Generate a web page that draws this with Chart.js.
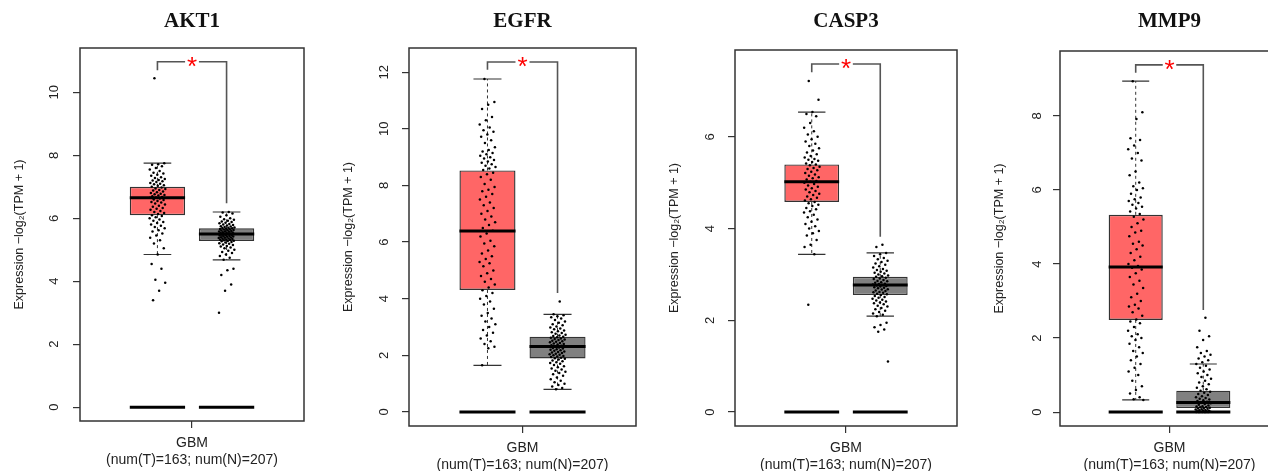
<!DOCTYPE html>
<html><head><meta charset="utf-8">
<script src="https://cdn.jsdelivr.net/npm/chart.js@4.4.1/dist/chart.umd.min.js"></script>
<style>
html,body{margin:0;padding:0;background:#fff;width:1268px;height:471px;overflow:hidden;position:relative;}
.panel{position:absolute;top:0;height:471px;}
</style></head><body>
<script>
// ---------------- data ----------------
const genes = ['AKT1', 'EGFR', 'CASP3', 'MMP9'];
const xTickLabel = ['GBM', '(num(T)=163; num(N)=207)'];
const yTitle = 'Expression \u2212log\u2082(TPM + 1)';
const yTicks = [[0, 2, 4, 6, 8, 10], [0, 2, 4, 6, 8, 10, 12], [0, 2, 4, 6], [0, 2, 4, 6, 8]];

// box statistics: tumor (T, red) and normal (N, grey)
const tumorQ1     = [6.10, 4.31, 4.58, 2.49];
const tumorMedian = [6.65, 6.39, 5.02, 3.92];
const tumorQ3     = [7.00, 8.53, 5.40, 5.33];
const tumorLow    = [4.85, 1.65, 3.44, 0.33];
const tumorHigh   = [7.75, 11.76, 6.54, 8.94];
const normalQ1     = [5.28, 1.89, 2.55, 0.11];
const normalMedian = [5.50, 2.31, 2.77, 0.26];
const normalQ3     = [5.68, 2.66, 2.95, 0.58];
const normalLow    = [4.68, 0.80, 2.09, 0.00];
const normalHigh   = [6.20, 3.45, 3.47, 1.30];

// significance bracket
const bracketTop      = [10.97, 12.36, 7.59, 9.38];
const bracketLeftEnd  = [10.70, 12.09, 7.41, 9.17];
const bracketRightEnd = [6.48, 4.20, 3.82, 2.76];

// sample points
const akt1Tumor = [10.45, 7.75, 7.72, 7.7, 7.65, 7.6, 7.55, 7.5, 7.45, 7.42, 7.38, 7.35, 7.3, 7.28, 7.25, 7.22, 7.2, 7.18, 7.15, 7.12, 7.1, 7.08, 7.05, 7.03, 7.0, 6.98, 6.95, 6.93, 6.9, 6.88, 6.85, 6.83, 6.8, 6.78, 6.76, 6.74, 6.72, 6.7, 6.68, 6.66, 6.65, 6.63, 6.6, 6.58, 6.55, 6.52, 6.5, 6.47, 6.44, 6.4, 6.37, 6.33, 6.3, 6.27, 6.23, 6.2, 6.17, 6.14, 6.1, 6.07, 6.03, 6.0, 5.96, 5.92, 5.88, 5.85, 5.8, 5.76, 5.72, 5.68, 5.62, 5.58, 5.52, 5.45, 5.38, 5.3, 5.2, 5.05, 4.85, 4.55, 4.4, 4.05, 3.95, 3.7, 3.4];
const akt1Normal = [6.2, 6.18, 6.15, 6.1, 6.05, 6.0, 5.97, 5.95, 5.92, 5.9, 5.88, 5.86, 5.84, 5.82, 5.8, 5.79, 5.77, 5.75, 5.74, 5.72, 5.71, 5.7, 5.69, 5.68, 5.67, 5.66, 5.65, 5.64, 5.63, 5.62, 5.61, 5.6, 5.59, 5.58, 5.57, 5.56, 5.55, 5.54, 5.53, 5.52, 5.51, 5.5, 5.49, 5.48, 5.47, 5.46, 5.45, 5.44, 5.43, 5.42, 5.41, 5.4, 5.39, 5.38, 5.37, 5.36, 5.35, 5.34, 5.33, 5.32, 5.31, 5.3, 5.29, 5.28, 5.27, 5.25, 5.23, 5.21, 5.19, 5.17, 5.15, 5.12, 5.1, 5.07, 5.05, 5.0, 4.97, 4.93, 4.9, 4.85, 4.8, 4.75, 4.68, 4.4, 4.35, 4.2, 3.9, 3.7, 3.0];
const egfrTumor = [11.76, 10.95, 10.85, 10.7, 10.42, 10.3, 10.15, 10.05, 9.95, 9.9, 9.8, 9.72, 9.6, 9.5, 9.35, 9.25, 9.2, 9.15, 9.1, 9.05, 9.0, 8.95, 8.9, 8.85, 8.8, 8.75, 8.7, 8.65, 8.6, 8.55, 8.45, 8.4, 8.3, 8.2, 8.05, 7.95, 7.85, 7.8, 7.7, 7.6, 7.5, 7.4, 7.3, 7.2, 7.1, 7.0, 6.9, 6.8, 6.7, 6.6, 6.5, 6.4, 6.3, 6.2, 6.05, 5.95, 5.85, 5.7, 5.6, 5.5, 5.4, 5.3, 5.25, 5.15, 5.0, 4.9, 4.8, 4.7, 4.6, 4.5, 4.4, 4.3, 4.2, 4.1, 4.0, 3.9, 3.8, 3.65, 3.5, 3.4, 3.3, 3.2, 3.1, 3.0, 2.9, 2.8, 2.7, 2.6, 2.5, 2.4, 2.3, 2.25, 1.65];
const egfrNormal = [3.9, 3.45, 3.42, 3.38, 3.35, 3.3, 3.25, 3.2, 3.15, 3.1, 3.06, 3.02, 2.98, 2.95, 2.92, 2.88, 2.85, 2.82, 2.79, 2.76, 2.73, 2.7, 2.68, 2.66, 2.64, 2.62, 2.6, 2.58, 2.56, 2.54, 2.52, 2.5, 2.48, 2.46, 2.44, 2.42, 2.4, 2.38, 2.36, 2.34, 2.32, 2.3, 2.28, 2.26, 2.24, 2.22, 2.2, 2.18, 2.16, 2.14, 2.12, 2.1, 2.08, 2.06, 2.04, 2.02, 2.0, 1.98, 1.96, 1.94, 1.92, 1.9, 1.88, 1.85, 1.82, 1.79, 1.76, 1.73, 1.7, 1.66, 1.62, 1.58, 1.54, 1.5, 1.46, 1.42, 1.38, 1.33, 1.28, 1.22, 1.16, 1.1, 1.05, 1.0, 0.95, 0.9, 0.85, 0.8];
const casp3Tumor = [7.22, 6.81, 6.54, 6.5, 6.45, 6.3, 6.2, 6.12, 6.05, 6.0, 5.95, 5.9, 5.85, 5.8, 5.75, 5.7, 5.66, 5.62, 5.58, 5.55, 5.52, 5.5, 5.48, 5.45, 5.42, 5.4, 5.38, 5.35, 5.32, 5.3, 5.27, 5.24, 5.21, 5.18, 5.15, 5.12, 5.1, 5.07, 5.04, 5.02, 5.0, 4.97, 4.94, 4.91, 4.88, 4.85, 4.82, 4.79, 4.76, 4.73, 4.7, 4.67, 4.64, 4.61, 4.58, 4.55, 4.52, 4.49, 4.45, 4.42, 4.38, 4.35, 4.3, 4.25, 4.2, 4.15, 4.1, 4.05, 4.0, 3.95, 3.9, 3.85, 3.75, 3.65, 3.6, 3.44, 2.34];
const casp3Normal = [3.65, 3.6, 3.47, 3.44, 3.4, 3.36, 3.33, 3.3, 3.27, 3.24, 3.21, 3.18, 3.15, 3.12, 3.1, 3.08, 3.06, 3.04, 3.02, 3.0, 2.98, 2.96, 2.95, 2.93, 2.91, 2.9, 2.88, 2.86, 2.85, 2.83, 2.82, 2.8, 2.79, 2.78, 2.77, 2.76, 2.75, 2.74, 2.72, 2.71, 2.7, 2.68, 2.67, 2.65, 2.64, 2.62, 2.61, 2.6, 2.58, 2.57, 2.55, 2.53, 2.51, 2.49, 2.47, 2.45, 2.43, 2.41, 2.39, 2.37, 2.35, 2.32, 2.3, 2.27, 2.24, 2.21, 2.18, 2.15, 2.12, 2.09, 1.95, 1.9, 1.85, 1.8, 1.75, 1.1];
const mmp9Tumor = [8.94, 8.1, 7.92, 7.4, 7.35, 7.2, 7.1, 7.0, 6.85, 6.8, 6.5, 6.4, 6.2, 6.1, 6.05, 6.0, 5.9, 5.8, 5.75, 5.7, 5.65, 5.6, 5.55, 5.5, 5.42, 5.35, 5.28, 5.2, 5.1, 5.0, 4.9, 4.85, 4.75, 4.6, 4.55, 4.5, 4.4, 4.3, 4.2, 4.1, 4.0, 3.95, 3.9, 3.85, 3.75, 3.65, 3.55, 3.45, 3.35, 3.2, 3.1, 3.0, 2.9, 2.85, 2.8, 2.7, 2.6, 2.5, 2.45, 2.4, 2.3, 2.2, 2.1, 2.05, 2.0, 1.95, 1.85, 1.75, 1.65, 1.6, 1.5, 1.4, 1.3, 1.2, 1.1, 1.0, 0.85, 0.7, 0.6, 0.5, 0.4, 0.35, 0.33];
const mmp9Normal = [2.55, 2.2, 2.05, 1.95, 1.75, 1.65, 1.6, 1.55, 1.5, 1.45, 1.4, 1.35, 1.3, 1.25, 1.2, 1.15, 1.1, 1.05, 1.0, 0.95, 0.9, 0.85, 0.8, 0.75, 0.7, 0.66, 0.62, 0.58, 0.55, 0.52, 0.49, 0.46, 0.43, 0.4, 0.38, 0.36, 0.34, 0.32, 0.3, 0.28, 0.26, 0.24, 0.22, 0.2, 0.18, 0.16, 0.15, 0.14, 0.13, 0.12, 0.11, 0.1, 0.09, 0.08, 0.07, 0.06, 0.05, 0.04, 0.03, 0.02, 0.02, 0.01, 0.01, 0.0, 0.0, 0.0, 0.0, 0.0, 0.0, 0.0];

const tumorPoints = [akt1Tumor, egfrTumor, casp3Tumor, mmp9Tumor];
const normalPoints = [akt1Normal, egfrNormal, casp3Normal, mmp9Normal];

// ---------------- layout / style ----------------
const frameLeft   = [80, 409, 735, 1060];
const frameRight  = [304, 636, 957, 1279];
const frameTop    = [48, 48, 50, 51];
const frameBottom = [421, 426, 426, 426];
const yTickPad    = [11, 10.5, 14, 12];
const AXW = 80, PADR = 4, H = 471;
const TPos = -1, NPos = 1, HALF = 0.8, CAP = 0.4, XR = 3.24, JIT = 0.23, GAP = 0.2;
const RED = '#FF6666', GREY = '#808080', EDGE = '#333333';

Chart.defaults.font.family = "'Liberation Sans', Arial, sans-serif";
Chart.defaults.color = '#222';

function jitter(i) { const f = (i * 0.6180339887 + 0.31) % 1; return (f - 0.5) * 2 * JIT; }
function segs(list) {
  const out = [];
  list.forEach(s => { out.push({x: s[0], y: s[1]}, {x: s[2], y: s[3]}, {x: s[2], y: null}); });
  return out;
}

function build(p) {
  const div = document.createElement('div');
  div.className = 'panel';
  const w = frameRight[p] - frameLeft[p] + AXW + PADR;
  div.style.left = (frameLeft[p] - AXW) + 'px';
  div.style.width = w + 'px';
  const cv = document.createElement('canvas');
  div.appendChild(cv);
  document.body.appendChild(div);

  const pts = [];
  tumorPoints[p].forEach((v, i) => pts.push({x: TPos + jitter(i), y: v}));
  normalPoints[p].forEach((v, i) => pts.push({x: NPos + jitter(i + 7), y: v}));

  const medians = segs([[TPos - HALF, tumorMedian[p], TPos + HALF, tumorMedian[p]],
                        [NPos - HALF, normalMedian[p], NPos + HALF, normalMedian[p]]]);
  const zeros = segs([[TPos - HALF, 0, TPos + HALF, 0], [NPos - HALF, 0, NPos + HALF, 0]]);
  const whisk = segs([[TPos, tumorQ3[p], TPos, tumorHigh[p]], [TPos, tumorQ1[p], TPos, tumorLow[p]],
                      [NPos, normalQ3[p], NPos, normalHigh[p]], [NPos, normalQ1[p], NPos, normalLow[p]]]);
  const caps = segs([[TPos - CAP, tumorHigh[p], TPos + CAP, tumorHigh[p]], [TPos - CAP, tumorLow[p], TPos + CAP, tumorLow[p]],
                     [NPos - CAP, normalHigh[p], NPos + CAP, normalHigh[p]], [NPos - CAP, normalLow[p], NPos + CAP, normalLow[p]]]);
  const bracket = [
    {x: TPos, y: bracketLeftEnd[p]}, {x: TPos, y: bracketTop[p]}, {x: -GAP, y: bracketTop[p]}, {x: -GAP, y: null},
    {x: GAP, y: bracketTop[p]}, {x: NPos, y: bracketTop[p]}, {x: NPos, y: bracketRightEnd[p]}
  ];

  const lineDs = (data, color, width, dash) => ({type: 'line', data, borderColor: color, borderWidth: width,
    borderDash: dash || [], pointRadius: 0, fill: false, spanGaps: false, tension: 0, borderCapStyle: 'butt'});

  const starPlugin = {
    id: 'frameStar' + p,
    afterDatasetsDraw(chart) {
      const {ctx, chartArea: a, scales} = chart;
      ctx.save();
      ctx.strokeStyle = EDGE; ctx.lineWidth = 1.5;
      ctx.strokeRect(a.left, a.top, a.right - a.left, a.bottom - a.top);
      const x0 = scales.x.getPixelForValue(0);
      const y0 = scales.y.getPixelForValue(bracketTop[p]);
      ctx.fillStyle = '#FF0000';
      ctx.font = "26px 'Liberation Sans', Arial, sans-serif";
      ctx.textAlign = 'center'; ctx.textBaseline = 'alphabetic';
      ctx.fillText('*', x0, y0 + 0.573 * 26 - 2);
      ctx.restore();
    }
  };

  const top = bracketTop[p];
  new Chart(cv, {
    type: 'scatter',
    data: {
      datasets: [
        {type: 'scatter', data: pts, pointRadius: 1.25, pointBackgroundColor: '#000', pointBorderWidth: 0, pointHoverRadius: 1.25},
        lineDs(medians, '#000', 3),
        lineDs(zeros, '#000', 3),
        lineDs(caps, EDGE, 1.2),
        lineDs(whisk, EDGE, 1, [3, 3]),
        lineDs(bracket, '#555', 1.6),
        {type: 'bar', data: [{x: TPos, y: [tumorQ1[p], tumorQ3[p]]}, {x: NPos, y: [normalQ1[p], normalQ3[p]]}],
         backgroundColor: [RED, GREY], borderColor: EDGE, borderWidth: 1.4, borderSkipped: false,
         categoryPercentage: 0.8, barPercentage: 1.0, grouped: false}
      ]
    },
    options: {
      responsive: true, maintainAspectRatio: false, animation: false,
      events: [],
      layout: {padding: {left: 0, right: PADR, top: 0, bottom: 0}},
      plugins: {
        legend: {display: false}, tooltip: {enabled: false},
        title: {display: true, text: genes[p], fullSize: false, color: '#111',
          font: {family: "'Liberation Serif', 'Times New Roman', serif", size: 21, weight: 'bold', lineHeight: 1.2},
          padding: {top: 9, bottom: frameTop[p] - 9 - 25.2}}
      },
      scales: {
        x: {type: 'linear', min: -XR, max: XR, offset: false,
          grid: {display: true, drawOnChartArea: false, drawTicks: true, tickLength: 7, color: EDGE, lineWidth: 1.2, offset: false},
          border: {display: false},
          ticks: {autoSkip: false, maxRotation: 0, minRotation: 0, padding: 7.5, color: '#222',
            font: {size: 14, lineHeight: 1.15}, callback: () => xTickLabel},
          afterBuildTicks: s => { s.ticks = [{value: 0}]; },
          afterFit: s => { s.height = H - frameBottom[p]; }
        },
        y: {type: 'linear', min: -0.04 * top, max: 1.04 * top,
          grid: {display: true, drawOnChartArea: false, drawTicks: true, tickLength: 7, color: EDGE, lineWidth: 1.2},
          border: {display: false},
          ticks: {autoSkip: false, minRotation: 90, maxRotation: 90, crossAlign: 'center', padding: yTickPad[p],
            color: '#222', font: {size: 13}},
          afterBuildTicks: s => { s.ticks = yTicks[p].map(v => ({value: v})); },
          title: {display: true, text: yTitle, color: '#222', font: {size: 12.5, lineHeight: 1.2}, padding: {top: 12, bottom: 0}},
          afterFit: s => { s.width = AXW; }
        }
      }
    },
    plugins: [starPlugin]
  });
}
for (let p = 0; p < genes.length; p++) build(p);
</script>
</body></html>
